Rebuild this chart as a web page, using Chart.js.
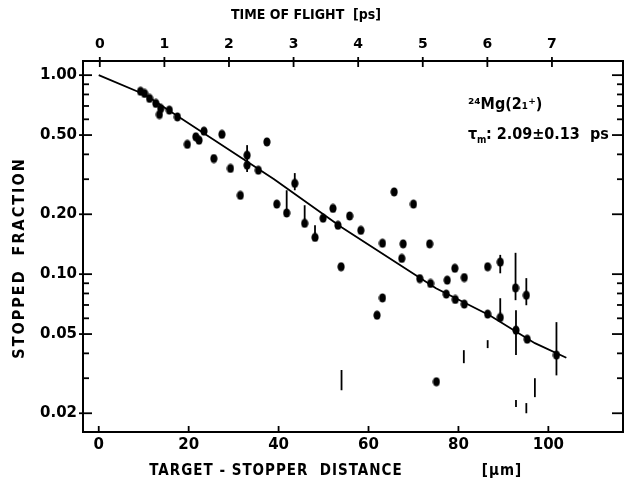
<!DOCTYPE html>
<html>
<head>
<meta charset="utf-8">
<script src="https://cdn.jsdelivr.net/npm/chart.js@4.4.0/dist/chart.umd.min.js"></script>
<style>
  html, body { margin: 0; padding: 0; background: #fff; }
  canvas { display: block; }
</style>
</head>
<body>
<canvas id="lifetimeChart" width="628" height="491"></canvas>
<script>
// Measured stopped fraction vs target-stopper distance (um)
var distance = [9.3, 10.2, 11.3, 12.7, 13.8, 13.5, 15.7, 17.5, 19.7, 21.6, 22.3, 23.4, 25.6, 27.4,
    29.3, 31.5, 33.0, 33.0, 35.5, 37.4, 39.6, 41.8, 43.6, 45.8, 48.1, 49.9, 52.1, 53.2, 53.9,
    55.8, 58.3, 61.9, 63.1, 63.1, 65.7, 67.4, 67.7, 70.0, 71.4, 73.6, 73.8, 75.1, 77.3, 77.5,
    79.2, 79.3, 81.3, 81.3, 86.5, 86.5, 89.3, 89.3, 92.7, 92.8, 95.1, 95.3, 101.8];
var fraction = [0.83, 0.809, 0.764, 0.721, 0.680, 0.634, 0.667, 0.617, 0.449, 0.49, 0.471, 0.523, 0.381, 0.504,
    0.340, 0.249, 0.396, 0.353, 0.333, 0.462, 0.225, 0.203, 0.286, 0.180, 0.153, 0.191, 0.214, 0.176, 0.109,
    0.196, 0.166, 0.0622, 0.076, 0.143, 0.259, 0.120, 0.142, 0.225, 0.095, 0.142, 0.0898, 0.0288, 0.0794, 0.0933,
    0.107, 0.0746, 0.0962, 0.0707, 0.109, 0.063, 0.115, 0.0606, 0.0853, 0.0523, 0.0784, 0.0471, 0.0392];

// Vertical error bars
var errDistance = [33.0, 41.8, 43.6, 45.8, 48.1, 54.0, 81.2, 86.5, 89.3, 89.3, 92.7, 92.8, 92.8, 95.1, 95.1, 97.0, 101.8];
var errLow  = [0.326, 0.203, 0.264, 0.180, 0.153, 0.0261, 0.0357, 0.0425, 0.101, 0.0574, 0.074, 0.0392, 0.0215, 0.0698, 0.020, 0.0241, 0.031];
var errHigh = [0.445, 0.264, 0.322, 0.222, 0.176, 0.033, 0.0415, 0.0466, 0.125, 0.0757, 0.128, 0.0659, 0.0233, 0.0955, 0.0225, 0.030, 0.0574];

// Fitted decay curve
var fitDistance = [0, 10.2, 39, 54, 75, 87, 97, 104];
var fitFraction = [1.0, 0.80, 0.30, 0.172, 0.085, 0.062, 0.045, 0.038];

// Axis ticks
var distanceTicks = [0, 20, 40, 60, 80, 100];
var timeTicks = [0, 1, 2, 3, 4, 5, 6, 7];
var fractionTicks = [1.0, 0.5, 0.2, 0.1, 0.05, 0.02];
var fractionMinor = [0.9, 0.8, 0.7, 0.6, 0.4, 0.3, 0.09, 0.08, 0.07, 0.06, 0.04, 0.03];

var FONT = "'DejaVu Sans', sans-serif";
var FONT_NARROW = "'DejaVu Sans Condensed', 'DejaVu Sans', sans-serif";

var scatterData = distance.map(function(d, i) { return { x: d, y: fraction[i] }; });
var fitData = fitDistance.map(function(d, i) { return { x: d, y: fitFraction[i] }; });

// slightly tall filled dot used as the point marker
var dot = document.createElement('canvas');
dot.width = 8;
dot.height = 10;
(function() {
    var c = dot.getContext('2d');
    c.fillStyle = '#000';
    c.beginPath();
    c.ellipse(4, 5, 3.6, 4.6, 0, 0, Math.PI * 2);
    c.fill();
})();

function line(ctx, x1, y1, x2, y2) {
    ctx.beginPath();
    ctx.moveTo(x1, y1);
    ctx.lineTo(x2, y2);
    ctx.stroke();
}

// error bars, frame, inward tick marks and the text labels
var decorations = {
    id: 'decorations',
    afterDatasetsDraw: function(chart) {
        var ctx = chart.ctx;
        var xs = chart.scales.x, ys = chart.scales.y;
        ctx.save();
        ctx.strokeStyle = '#000';
        ctx.lineWidth = 1.8;
        for (var i = 0; i < errDistance.length; i++) {
            var px = xs.getPixelForValue(errDistance[i]);
            line(ctx, px, ys.getPixelForValue(errLow[i]), px, ys.getPixelForValue(errHigh[i]));
        }
        ctx.restore();
    },
    afterDraw: function(chart) {
        var ctx = chart.ctx;
        var a = chart.chartArea;
        var xs = chart.scales.x, xt = chart.scales.xTime, ys = chart.scales.y;
        ctx.save();
        ctx.strokeStyle = '#000';
        ctx.lineWidth = 2;
        ctx.strokeRect(a.left, a.top, a.right - a.left, a.bottom - a.top);

        ctx.lineWidth = 1.8;
        distanceTicks.forEach(function(v) {
            var p = xs.getPixelForValue(v);
            line(ctx, p, a.bottom, p, a.bottom - 6);
        });
        timeTicks.forEach(function(v) {
            var p = xt.getPixelForValue(v);
            line(ctx, p, a.top - 4, p, a.top + 6);
        });
        fractionTicks.forEach(function(v) {
            var p = ys.getPixelForValue(v);
            line(ctx, a.left - 4, p, a.left + 9, p);
            line(ctx, a.right, p, a.right - 11, p);
        });
        fractionMinor.forEach(function(v) {
            var p = ys.getPixelForValue(v);
            line(ctx, a.left, p, a.left + 6, p);
            line(ctx, a.right, p, a.right - 6, p);
        });

        ctx.fillStyle = '#000';
        ctx.textBaseline = 'middle';
        ctx.textAlign = 'center';
        ctx.font = 'bold 14px ' + FONT_NARROW;
        ctx.fillText('TIME OF FLIGHT  [ps]', 306, 15);
        ctx.font = 'bold 15px ' + FONT_NARROW;
        ctx.letterSpacing = '1px';
        ctx.fillText('TARGET - STOPPER  DISTANCE', 276, 471);
        ctx.fillText('[\u00b5m]', 502, 471);

        ctx.save();
        ctx.translate(20, 258);
        ctx.rotate(-Math.PI / 2);
        ctx.font = 'bold 16px ' + FONT_NARROW;
        ctx.letterSpacing = '2px';
        ctx.fillText('STOPPED  FRACTION', 0, 0);
        ctx.restore();
        ctx.letterSpacing = '0px';

        ctx.textAlign = 'left';
        ctx.font = 'bold 16px ' + FONT_NARROW;
        ctx.fillText('\u00b2\u2074Mg(2\u2081\u207a)', 468, 105);
        ctx.fillText('\u03c4', 468, 135);
        ctx.font = 'bold 10px ' + FONT_NARROW;
        ctx.fillText('m', 477, 140);
        ctx.font = 'bold 16px ' + FONT_NARROW;
        ctx.fillText(': 2.09\u00b10.13  ps', 486, 135);
        ctx.restore();
    }
};

new Chart(document.getElementById('lifetimeChart').getContext('2d'), {
    type: 'scatter',
    data: {
        datasets: [{
            label: 'fit',
            type: 'line',
            data: fitData,
            borderColor: '#000',
            borderWidth: 1.8,
            pointRadius: 0,
            fill: false,
            tension: 0
        }, {
            label: 'data',
            data: scatterData,
            pointStyle: dot,
            pointRadius: 4
        }]
    },
    plugins: [decorations],
    options: {
        responsive: false,
        animation: false,
        layout: { padding: { left: 0, right: 1, top: 0, bottom: 0 } },
        plugins: {
            legend: { display: false },
            tooltip: { enabled: false }
        },
        scales: {
            x: {
                type: 'linear',
                position: 'bottom',
                min: -3.5,
                max: 116.6,
                afterBuildTicks: function(s) { s.ticks = distanceTicks.map(function(v) { return { value: v }; }); },
                afterFit: function(s) { s.height = 59; },
                grid: { display: false, drawTicks: false },
                border: { display: false },
                ticks: { color: '#000', padding: 4, autoSkip: false, maxRotation: 0,
                         font: { family: FONT, size: 15, weight: 'bold' } }
            },
            xTime: {
                type: 'linear',
                position: 'top',
                min: -0.26,
                max: 8.1,
                afterBuildTicks: function(s) { s.ticks = timeTicks.map(function(v) { return { value: v }; }); },
                afterFit: function(s) { s.height = 61; },
                grid: { display: false, drawTicks: false },
                border: { display: false },
                ticks: { color: '#000', padding: 8, autoSkip: false, maxRotation: 0,
                         font: { family: FONT, size: 14, weight: 'bold' } }
            },
            y: {
                type: 'logarithmic',
                min: 0.0161,
                max: 1.178,
                afterBuildTicks: function(s) { s.ticks = fractionTicks.map(function(v) { return { value: v }; }); },
                afterFit: function(s) { s.width = 83; },
                grid: { display: false, drawTicks: false },
                border: { display: false },
                ticks: { color: '#000', padding: 6, autoSkip: false,
                         callback: function(v) { return Number(v).toFixed(2); },
                         font: { family: FONT, size: 15, weight: 'bold' } }
            }
        }
    }
});
</script>
</body>
</html>
